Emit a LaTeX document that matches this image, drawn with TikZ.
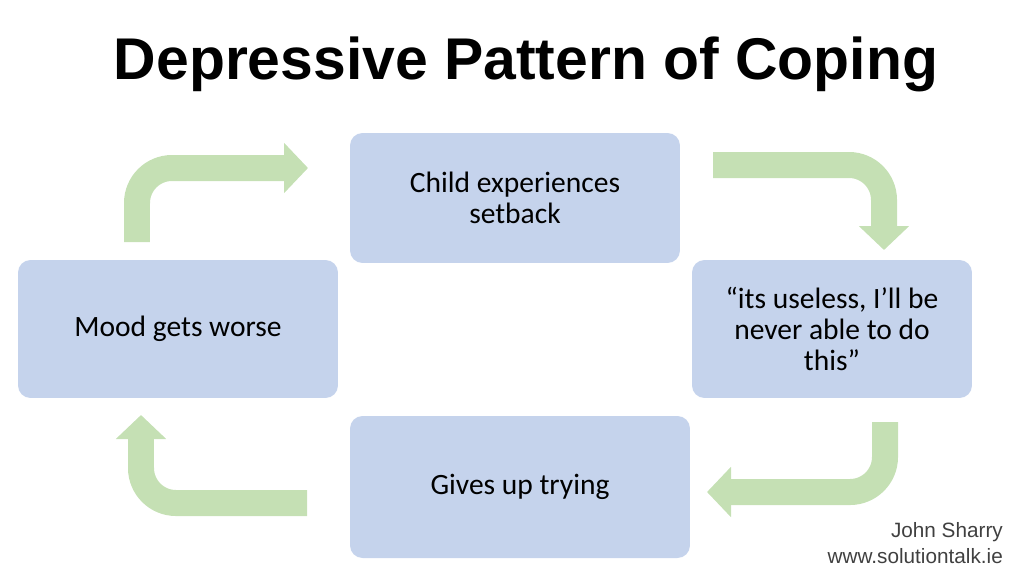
\documentclass[tikz,border=0pt]{standalone}
\usepackage{fontspec}
\setmainfont{Carlito}
\newfontfamily\headfont{Liberation Sans}
\usetikzlibrary{arrows.meta, positioning}
\definecolor{boxblue}{HTML}{C5D3EC}
\definecolor{arrgreen}{HTML}{C5E0B4}
\tikzset{
  stagebox/.style={fill=boxblue, rounded corners=0.25cm, align=center,
    font=\fontsize{16.8}{17.5}\selectfont, inner sep=0pt},
  loopflow/.style={draw=arrgreen, line width=0.52cm, rounded corners=0.7cm,
    -{Triangle[width=0.98cm,length=0.48cm]}}
}
\begin{document}
\begin{tikzpicture}[x=0.02cm, y=-0.02cm]
  \useasboundingbox (0,0) rectangle (1024,576);
  \node[font=\headfont\bfseries\fontsize{33.5}{36}\selectfont] (title) at (526,64) {Depressive Pattern of Coping};
  \node[stagebox, minimum width=6.6cm, minimum height=2.6cm] (setback) at (515,198) {Child experiences\\setback};
  \node[stagebox, minimum width=5.6cm, minimum height=2.76cm] (useless) at (832,329) {``its useless, I'll be\\never able to do\\this''};
  \node[stagebox, minimum width=6.8cm, minimum height=2.84cm] (gives) at (520,487) {Gives up trying};
  \node[stagebox, minimum width=6.4cm, minimum height=2.76cm] (mood) at (178,329) {Mood gets worse};
  \coordinate (a1s) at (137,242); \coordinate (a1e) at (308,168);
  \coordinate (a2s) at (713,165); \coordinate (a2e) at (884,250);
  \coordinate (a3s) at (885,422); \coordinate (a3e) at (707,492);
  \coordinate (a4s) at (307,503); \coordinate (a4e) at (141,415);
  \draw[loopflow] (a1s) |- (a1e);
  \draw[loopflow] (a2s) -| (a2e);
  \draw[loopflow] (a3s) |- (a3e);
  \draw[loopflow] (a4s) -| (a4e);
  \node[font=\headfont\fontsize{11.8}{14.5}\selectfont, text=black!75, align=right, anchor=east] (credit) at (1009,543) {John Sharry\\www.solutiontalk.ie};
\end{tikzpicture}
\end{document}
